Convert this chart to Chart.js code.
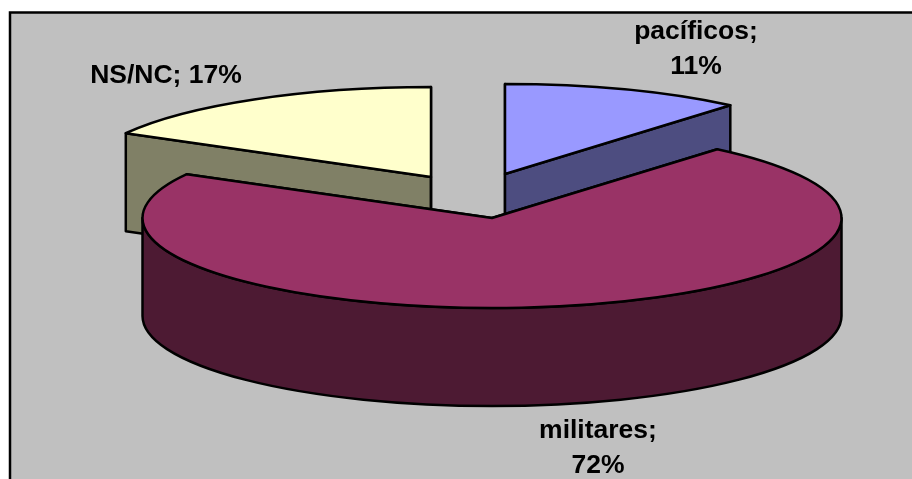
<!DOCTYPE html>
<html>
<head>
<meta charset="utf-8">
<style>
  html, body { margin: 0; padding: 0; background: #fff; }
  canvas { display: block; }
</style>
<script src="https://cdn.jsdelivr.net/npm/chart.js@4"></script>
</head>
<body>
<canvas id="pieChart" width="912" height="479"></canvas>
<script>
const categories = ['pacíficos', 'militares', 'NS/NC'];
// printed percentages are rounded, the slices read slightly finer
const percentLabels = [11, 72, 17];
const values = [11.15, 71.95, 16.9];

const topColors = ['#9999FF', '#993366', '#FFFFCC'];
const sideColors = ['#4D4D80', '#4D1A33', '#808066'];

// where each exploded slice ends up on the page
const apexes = [[505, 174], [492, 218], [431, 177]];
const radiusX = 349.5;
const radiusY = 90;
const depth = 98;
const drawOrder = [2, 0, 1];

// label lines, first line is centred on x, y is the baseline
const labelPos = [
  { x: 696, y: 39, lines: 2 },
  { x: 598, y: 438, lines: 2 },
  { x: 166, y: 83, lines: 1 }
];

function outlineTop(ctx, ax, ay, a0, a1) {
  ctx.beginPath();
  ctx.moveTo(ax, ay);
  ctx.ellipse(ax, ay, radiusX, radiusY, 0, a0, a1);
  ctx.closePath();
  ctx.stroke();
}

function drawWall(ctx, ax, ay, angle) {
  const ex = ax + radiusX * Math.cos(angle);
  const ey = ay + radiusY * Math.sin(angle);
  ctx.beginPath();
  ctx.moveTo(ax, ay);
  ctx.lineTo(ex, ey);
  ctx.lineTo(ex, ey + depth);
  ctx.lineTo(ax, ay + depth);
  ctx.closePath();
  ctx.fill();
  ctx.stroke();
}

function drawRim(ctx, ax, ay, a0, a1) {
  // only the part of the rim that faces the viewer
  const from = Math.max(a0, 0);
  const to = Math.min(a1, Math.PI);
  if (from >= to) return;
  ctx.beginPath();
  ctx.ellipse(ax, ay, radiusX, radiusY, 0, from, to);
  ctx.ellipse(ax, ay + depth, radiusX, radiusY, 0, to, from, true);
  ctx.closePath();
  ctx.fill();
  ctx.stroke();
}

const pie3d = {
  id: 'pie3d',
  beforeDraw(chart) {
    const ctx = chart.ctx;
    ctx.save();
    ctx.fillStyle = '#C0C0C0';
    ctx.fillRect(10, 13, 902, 466);
    ctx.strokeStyle = '#000';
    ctx.lineWidth = 2.5;
    ctx.beginPath();
    ctx.moveTo(10, 479);
    ctx.lineTo(10, 12.5);
    ctx.lineTo(912, 12.5);
    ctx.stroke();
    ctx.restore();
  },
  beforeDatasetDraw(chart, args) {
    const ctx = chart.ctx;
    const arcs = args.meta.data;
    drawOrder.forEach(i => {
      const arc = arcs[i];
      const [ax, ay] = apexes[i];
      ctx.save();
      ctx.lineWidth = 2.5;
      ctx.lineJoin = 'round';
      ctx.strokeStyle = '#000';
      ctx.fillStyle = sideColors[i];
      drawWall(ctx, ax, ay, arc.startAngle);
      drawWall(ctx, ax, ay, arc.endAngle);
      drawRim(ctx, ax, ay, arc.startAngle, arc.endAngle);

      ctx.save();
      ctx.translate(ax, ay);
      ctx.scale(radiusX / arc.outerRadius, radiusY / arc.outerRadius);
      ctx.translate(-arc.x, -arc.y);
      arc.draw(ctx);
      ctx.restore();

      outlineTop(ctx, ax, ay, arc.startAngle, arc.endAngle);
      ctx.restore();
    });
    return false;
  },
  afterDraw(chart) {
    const ctx = chart.ctx;
    ctx.save();
    ctx.fillStyle = '#000';
    ctx.font = 'bold 26.5px "Liberation Sans", Arial, sans-serif';
    ctx.textAlign = 'center';
    categories.forEach((name, i) => {
      const pos = labelPos[i];
      if (pos.lines === 2) {
        ctx.fillText(name + ';', pos.x, pos.y);
        ctx.fillText(percentLabels[i] + '%', pos.x, pos.y + 35);
      } else {
        ctx.fillText(name + '; ' + percentLabels[i] + '%', pos.x, pos.y);
      }
    });
    ctx.restore();
  }
};

new Chart(document.getElementById('pieChart').getContext('2d'), {
  type: 'pie',
  data: {
    labels: categories,
    datasets: [{
      data: values,
      backgroundColor: topColors,
      borderWidth: 0
    }]
  },
  options: {
    responsive: false,
    animation: false,
    devicePixelRatio: 1,
    plugins: { legend: { display: false }, tooltip: { enabled: false } }
  },
  plugins: [pie3d]
});
</script>
</body>
</html>
